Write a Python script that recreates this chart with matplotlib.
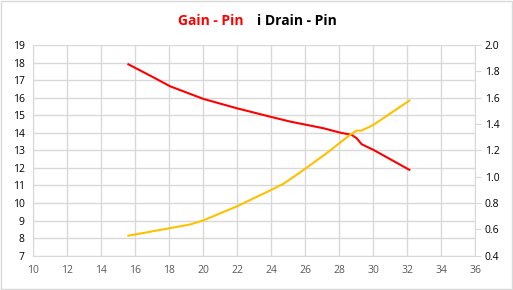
import matplotlib
matplotlib.use('Agg')
import matplotlib.pyplot as plt
from matplotlib.patches import Rectangle

plt.rcParams['font.family'] = ['Open Sans', 'DejaVu Sans']

# Gain vs Pin (left axis)
gain_pin = [15.61, 17.08, 18.06, 20.02, 21.98, 23.94, 25.12, 27.08, 28.06, 28.75,
            29.04, 29.33, 30.02, 32.14]
gain = [17.90, 17.16, 16.65, 15.93, 15.40, 14.92, 14.64, 14.26, 14.01, 13.88,
        13.69, 13.35, 13.03, 11.89]

# i Drain vs Pin (right axis)
idrain_pin = [15.61, 19.24, 20.02, 21.98, 23.94, 24.73, 25.71, 27.28, 28.65,
              29.04, 29.33, 30.02, 32.14]
idrain = [0.552, 0.637, 0.668, 0.774, 0.895, 0.946, 1.032, 1.179, 1.318,
          1.35, 1.35, 1.393, 1.578]

grid_col = '#d9d9d9'

fig = plt.figure(figsize=(5.13, 2.90), dpi=100)
ax = fig.add_axes([33 / 513, 1 - 255.7 / 290, 442 / 513, 210.7 / 290])
ax2 = ax.twinx()

ax.plot(gain_pin, gain, color='#ff0000', lw=1.5, zorder=3)
ax2.plot(idrain_pin, idrain, color='#ffc000', lw=1.5, zorder=3)

ax.set_xlim(10, 36)
ax.set_ylim(7, 19)
ax.set_xticks(range(10, 37, 2))
ax.set_yticks(range(7, 20))
ax2.set_ylim(0.4, 2.0)
ax2.set_yticks([0.4 + 0.2 * i for i in range(9)])
ax2.set_yticklabels(['%.1f' % (0.4 + 0.2 * i) for i in range(9)])

ax.grid(True, color=grid_col, lw=1)
ax.set_axisbelow(True)
for s in ['top', 'right']:
    ax.spines[s].set_visible(False)
for s in ['top', 'left', 'bottom']:
    ax2.spines[s].set_visible(False)
ax.spines['left'].set_color(grid_col)
ax.spines['bottom'].set_color(grid_col)
ax2.spines['right'].set_color(grid_col)

ax.tick_params(axis='y', length=0, labelsize=7.5, labelcolor='#000000', pad=6)
ax.tick_params(axis='x', length=0, labelsize=7.5, labelcolor='#595959', pad=7)
ax2.tick_params(axis='y', length=4, color=grid_col, labelsize=7.5, labelcolor='#000000', pad=3)

fig.text(0.411, 0.928, 'Gain - Pin', color='#ff0000', fontsize=10, fontweight='bold',
         ha='center', va='center')
fig.text(0.578, 0.928, 'i Drain - Pin', color='#000000', fontsize=10, fontweight='bold',
         ha='center', va='center')

fig.patches.append(Rectangle((0.002, 0.003), 0.996, 0.994, transform=fig.transFigure,
                             fill=False, edgecolor='#d9d9d9', lw=1))

fig.savefig('out.png', dpi=100)
